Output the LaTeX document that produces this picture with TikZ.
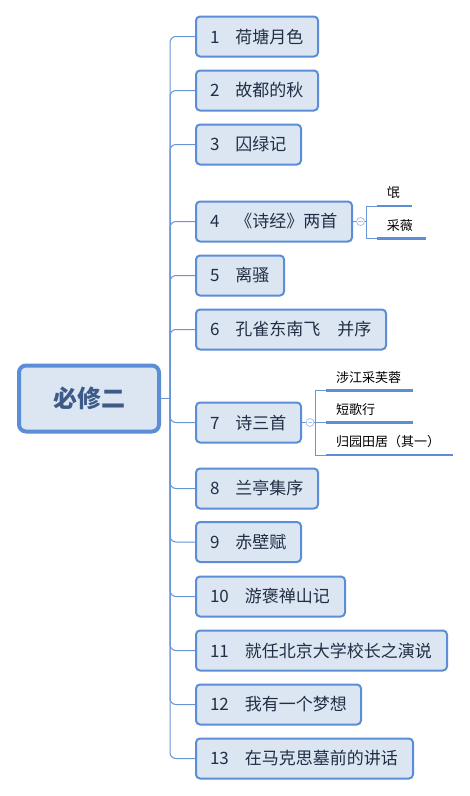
\documentclass[tikz,border=0pt]{standalone}
\usepackage{fontspec}
\newfontfamily\cjk{Noto Sans CJK SC}
\definecolor{boxblue}{HTML}{5B8ED6}
\definecolor{lineblue}{HTML}{6A96D6}
\definecolor{boxfill}{HTML}{DCE6F2}
\definecolor{txt}{HTML}{222E45}
\definecolor{roottxt}{HTML}{3D5A88}
\definecolor{togc}{HTML}{A9C2EA}
\newcommand\bx[2]{#1\hspace{16pt}#2}
\begin{document}
\begin{tikzpicture}[x=1pt,y=-1pt,
  conn/.style={draw=lineblue, line width=1pt},
  topic/.style={draw=boxblue, fill=boxfill, line width=2pt, rounded corners=4pt, anchor=west,
    minimum height=40pt, inner xsep=14pt, inner ysep=0pt, align=left,
    font=\cjk\fontsize{17}{20}\selectfont, text=txt},
  rootbox/.style={draw=boxblue, fill=boxfill, line width=4pt, rounded corners=7pt,
    minimum width=140pt, minimum height=66pt, font=\cjk\bfseries\fontsize{24}{28}\selectfont, text=roottxt},
  tog/.style={circle, draw=togc, fill=white, line width=0.8pt, minimum size=8pt, inner sep=0pt},
  sub/.style={anchor=south west, inner xsep=10pt, inner ysep=0pt, minimum height=26pt, align=left,
    font=\cjk\fontsize{13}{15}\selectfont, text=black},
  subl/.style={draw=boxblue, line width=2.5pt}
]
\fill[white] (0,0) rectangle (470,796);
\useasboundingbox (0,0) rectangle (470,796);

\node[rootbox] (root) at (89,398.5) {必修二};

\node[topic, text width=94pt]  (b1)  at (195,36.5)  {\bx{1}{荷塘月色}};
\node[topic, text width=94pt]  (b2)  at (195,90.5)  {\bx{2}{故都的秋}};
\node[topic, text width=77pt]  (b3)  at (195,144.5) {\bx{3}{囚绿记}};
\node[topic, text width=128pt] (b4)  at (195,221.5) {\bx{4}{《诗经》两首}};
\node[topic, text width=60pt]  (b5)  at (195,275.5) {\bx{5}{离骚}};
\node[topic, text width=162pt] (b6)  at (195,329.5) {\bx{6}{孔雀东南飞　并序}};
\node[topic, text width=77pt]  (b7)  at (195,422.5) {\bx{7}{诗三首}};
\node[topic, text width=94pt]  (b8)  at (195,488.5) {\bx{8}{兰亭集序}};
\node[topic, text width=77pt]  (b9)  at (195,542)   {\bx{9}{赤壁赋}};
\node[topic, text width=121pt] (b10) at (195,596.5) {\bx{10}{游褒禅山记}};
\node[topic, text width=223pt] (b11) at (195,650.5) {\bx{11}{就任北京大学校长之演说}};
\node[topic, text width=137pt] (b12) at (195,704.5) {\bx{12}{我有一个梦想}};
\node[topic, text width=189pt] (b13) at (195,758.5) {\bx{13}{在马克思墓前的讲话}};

\coordinate (sp) at (170,398.5);
\draw[conn] (root.east) -- (sp);
\foreach \i in {1,...,13} {
  \draw[conn, rounded corners=6pt] (sp) |- (b\i.west);
}

% sub-branches of 4
\node[tog] (k4) at (360.5,221.5) {};
\draw[togc, line width=0.8pt] ([xshift=-2.2pt]k4.center) -- ([xshift=2.2pt]k4.center);
\coordinate (j4) at (366.7,221.5);
\node[sub, text width=15.3pt] (s41) at (376.7,206) {氓};
\node[sub, text width=29pt]   (s42) at (376.7,238.3) {采薇};
\draw[conn] (b4.east) -- (k4.west);
\draw[conn] (k4.east) -- (j4);
\draw[conn] (j4) |- (s41.south west);
\draw[conn] (j4) |- (s42.south west);
\draw[subl] (s41.south west) -- (s41.south east);
\draw[subl] (s42.south west) -- (s42.south east);

% sub-branches of 7
\node[tog] (k7) at (310,422.5) {};
\draw[togc, line width=0.8pt] ([xshift=-2.2pt]k7.center) -- ([xshift=2.2pt]k7.center);
\coordinate (j7) at (315.7,422.5);
\node[sub, text width=67pt]    (s71) at (326,390.7) {涉江采芙蓉};
\node[sub, text width=67pt]    (s72) at (326,422.7) {短歌行};
\node[sub, text width=106.7pt] (s73) at (326,455)   {归园田居（其一）};
\draw[conn] (b7.east) -- (k7.west);
\draw[conn] (k7.east) -- (j7);
\draw[conn] (j7) |- (s71.south west);
\draw[conn] (j7) |- (s72.south west);
\draw[conn] (j7) |- (s73.south west);
\draw[subl] (s71.south west) -- (s71.south east);
\draw[subl] (s72.south west) -- (s72.south east);
\draw[subl] (s73.south west) -- (s73.south east);
\end{tikzpicture}
\end{document}
